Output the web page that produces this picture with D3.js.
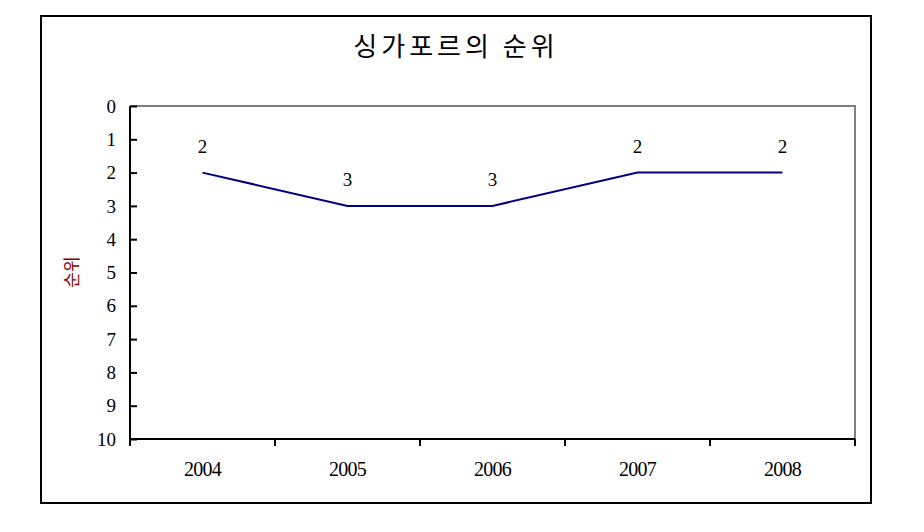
<!DOCTYPE html>
<html><head><meta charset="utf-8">
<script src="https://cdn.jsdelivr.net/npm/d3@7"></script>
<style>body{margin:0;background:#fff}</style>
</head><body>
<script>
const years = ["2004","2005","2006","2007","2008"];
const ranks = [2,3,3,2,2];
const yTicks = [0,1,2,3,4,5,6,7,8,9,10];
const title = "싱가포르의 순위";
const yTitle = "순위";

const W=924,H=532;
const svg=d3.select("body").append("svg").attr("width",W).attr("height",H);
svg.append("rect").attr("x",41).attr("y",16).attr("width",830).attr("height",487)
  .attr("fill","#fff").attr("stroke","#000").attr("stroke-width",2);

const L=130,R=855,T=106,B=439;
const x=d3.scaleBand().domain(years).range([L,R]).padding(0);
const y=d3.scaleLinear().domain([0,10]).range([T,B]);
const serif="'Liberation Serif','DejaVu Serif',serif";

// plot border top/right gray
svg.append("path").attr("d",`M${L},${T}H${R}V${B}`).attr("fill","none").attr("stroke","#808080").attr("stroke-width",2);

// y axis
const ya=svg.append("g").attr("transform",`translate(${L},0)`)
  .call(d3.axisRight(y).tickValues(yTicks).tickSize(7).tickFormat(""));
ya.select(".domain").attr("stroke","#000").attr("stroke-width",2).attr("d",`M0,${T}V${B}`);
ya.selectAll(".tick line").attr("stroke","#000").attr("stroke-width",2);
svg.append("g").selectAll("text").data(yTicks).join("text")
  .attr("x",116).attr("y",d=>y(d)).attr("dy","0.35em").attr("text-anchor","end")
  .attr("font-family",serif).attr("font-size",19).text(d=>d);

// x axis
const xa=svg.append("g").attr("transform",`translate(0,${B})`)
  .call(d3.axisBottom(x).tickSize(0).tickFormat(""));
xa.select(".domain").attr("stroke","#000").attr("stroke-width",2).attr("d",`M${L},0H${R}`);
xa.selectAll(".tick").remove();
const bounds=years.map(d=>x(d)).concat([x(years[years.length-1])+x.bandwidth()]);
svg.append("g").selectAll("line").data(bounds).join("line")
  .attr("x1",d=>d).attr("x2",d=>d).attr("y1",B).attr("y2",B+7)
  .attr("stroke","#000").attr("stroke-width",2);
svg.append("g").selectAll("text").data(years).join("text")
  .attr("x",d=>x(d)+x.bandwidth()/2).attr("y",B+37).attr("text-anchor","middle")
  .attr("font-family",serif).attr("font-size",20).attr("letter-spacing",-0.8).text(d=>d);

// line
const line=d3.line().x((d,i)=>x(years[i])+x.bandwidth()/2).y(d=>y(d));
svg.append("path").datum(ranks).attr("d",line).attr("fill","none").attr("stroke","#000080").attr("stroke-width",2);

// labels
svg.append("g").selectAll("text").data(ranks).join("text")
  .attr("x",(d,i)=>x(years[i])+x.bandwidth()/2).attr("y",d=>y(d)-20)
  .attr("text-anchor","middle").attr("font-family",serif).attr("font-size",19).text(d=>d);

// title
svg.append("text").attr("x",456).attr("y",56).attr("text-anchor","middle")
  .attr("font-family","'Noto Sans CJK KR',sans-serif").attr("font-size",26).attr("font-weight",400)
  .attr("letter-spacing",4).text(title);

// y title
svg.append("text").attr("transform","translate(78,272) rotate(-90)").attr("text-anchor","middle")
  .attr("font-family","'Noto Sans CJK KR',sans-serif").attr("font-size",17).attr("fill","#800000").text(yTitle);
</script>
</body></html>
